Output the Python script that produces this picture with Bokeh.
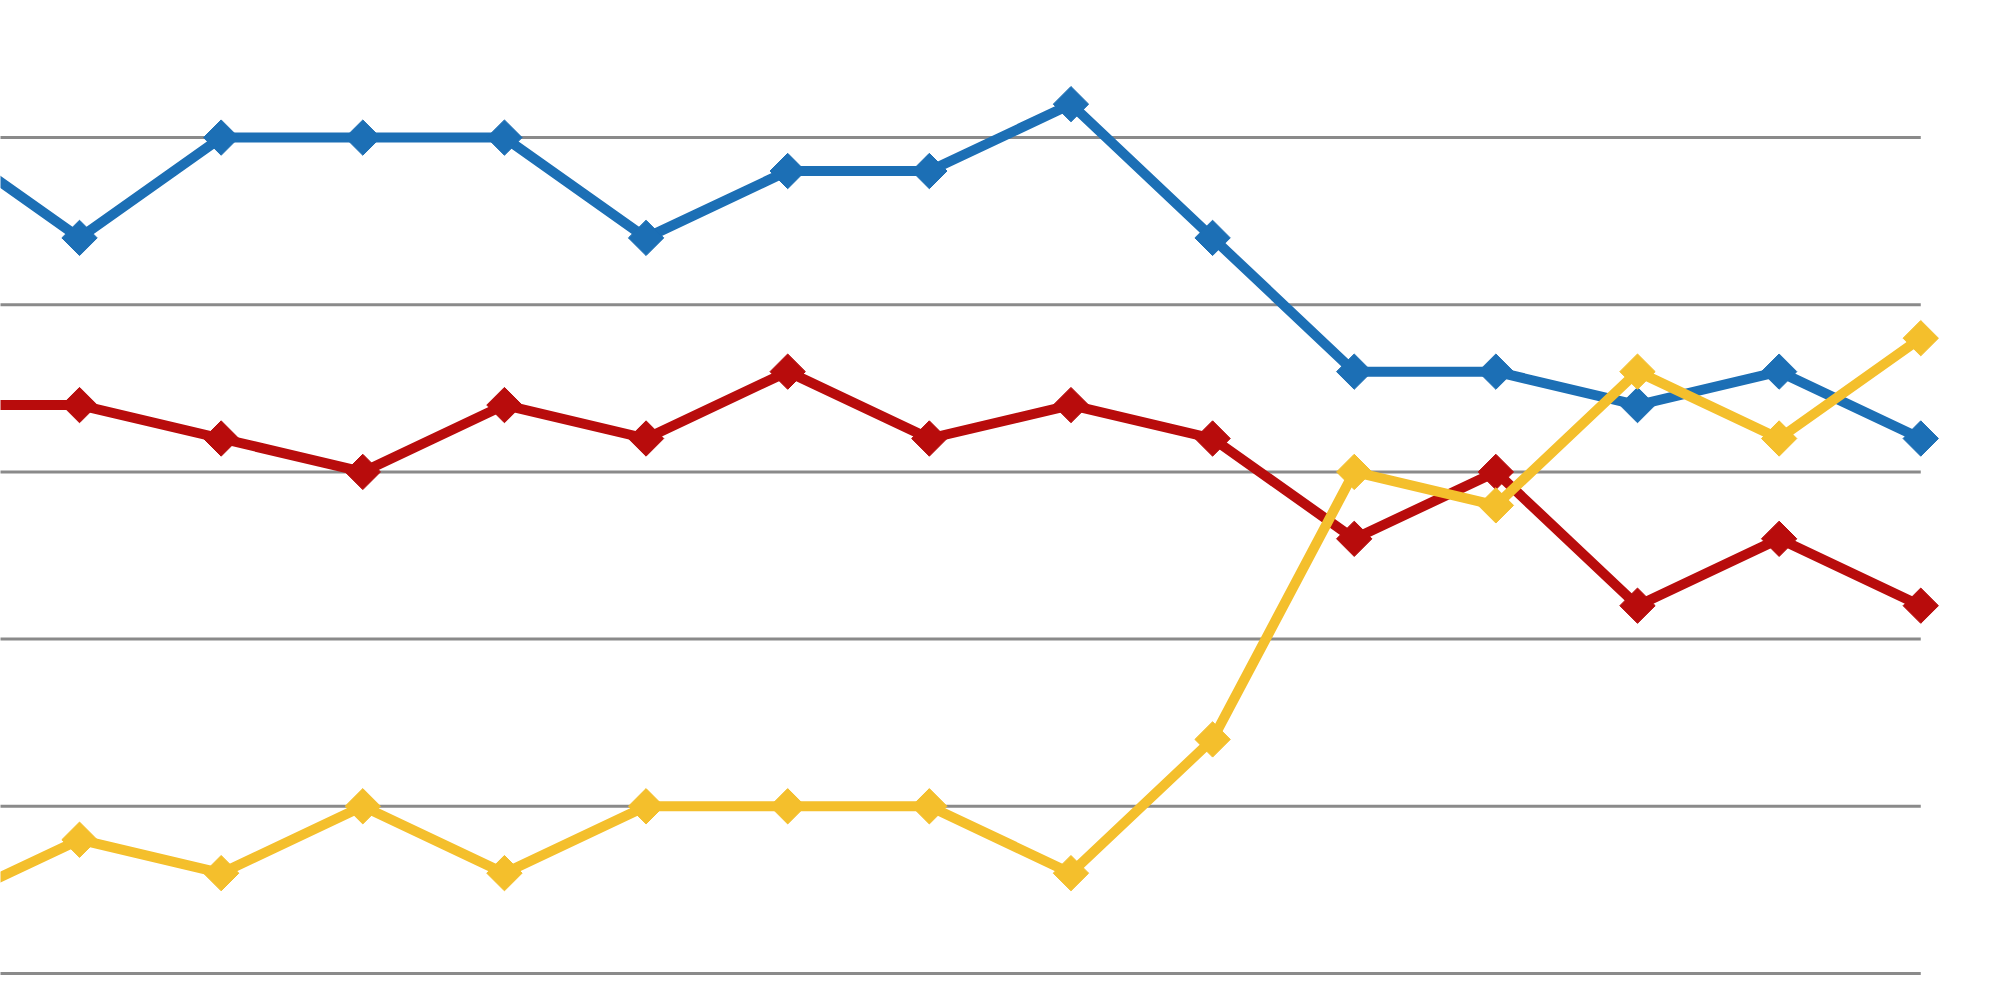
import numpy as np
from bokeh.plotting import figure
from bokeh.models import Range1d, ColumnDataSource
from bokeh.embed import file_html
from bokeh.resources import INLINE

# pontos (o primeiro fica fora da janela, à esquerda)
periodos = list(range(15))
azul = [25, 22, 25, 25, 25, 22, 24, 24, 26, 22, 18, 18, 17, 18, 16]
vermelho = [17, 17, 16, 15, 17, 16, 18, 16, 17, 16, 13, 15, 11, 13, 11]
amarelo = [2, 4, 3, 5, 3, 5, 5, 5, 3, 7, 15, 14, 18, 16, 19]
linhas_grade = [0, 5, 10, 15, 20, 25]

series = [
    (azul, "#1C6FB5"),
    (vermelho, "#B80C0C"),
    (amarelo, "#F4BF2C"),
]

p = figure(width=1984, height=984, output_backend="svg", toolbar_location=None,
           x_range=Range1d(0.442, 14.45), y_range=Range1d(-0.33, 29.1),
           min_border=0)
p.axis.visible = False
p.grid.visible = False
p.outline_line_color = None
p.background_fill_color = "white"

# linhas horizontais da grade, terminando no último ponto
grade = ColumnDataSource(dict(
    x0=[p.x_range.start - 1] * len(linhas_grade),
    x1=[periodos[-1]] * len(linhas_grade),
    y=linhas_grade,
))
p.segment(x0='x0', y0='y', x1='x1', y1='y', line_color="#8a8a8a", line_width=3, source=grade)

for valores, cor in series:
    p.line(periodos, valores, line_color=cor, line_width=10, line_join="round")
    p.scatter(periodos, valores, marker="square", angle=np.pi / 4, size=25,
              fill_color=cor, line_color=cor, line_width=1)

open("out.html", "w").write(file_html(p, INLINE))
